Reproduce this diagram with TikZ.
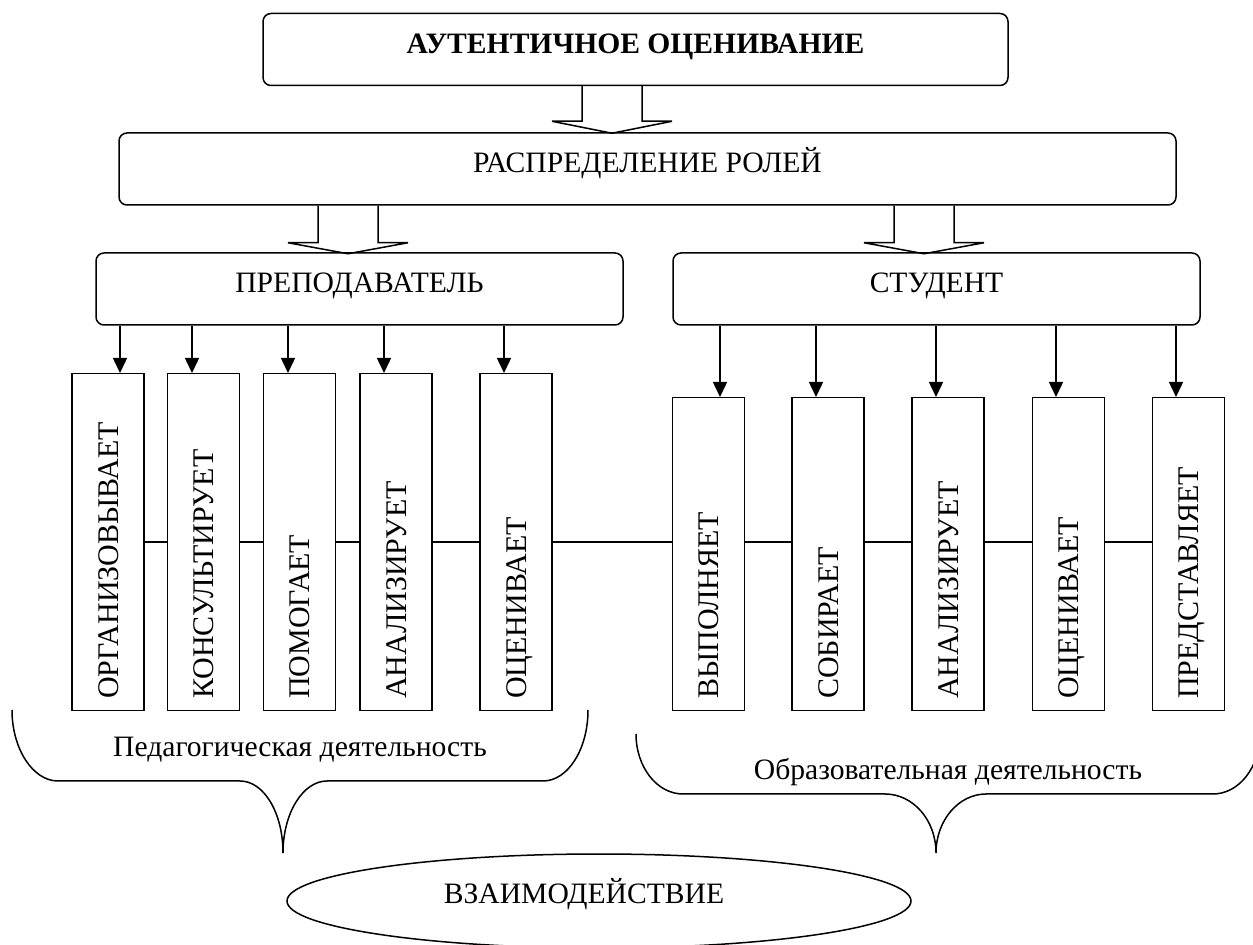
\documentclass[tikz,border=0pt]{standalone}
\usepackage{fontspec}
\setmainfont{Liberation Serif}
\usetikzlibrary{arrows.meta,calc,shapes.geometric}

\begin{document}
\begin{tikzpicture}[x=0.5pt,y=-0.5pt,line width=0.75pt,
  rbox/.style={draw, rounded corners=4pt, inner xsep=0pt, inner ysep=0pt,
    text height=20pt, text depth=16pt, font=\fontsize{14.8}{17}\selectfont},
  actbox/.style={draw, rotate=90, anchor=east, minimum height=36pt,
    inner xsep=6pt, inner ysep=0pt, align=left, text height=10pt,
    text depth=0pt, font=\fontsize{15}{17}\selectfont},
  tip/.style={-{Triangle[width=7pt,length=7.5pt]}},
  lbl/.style={anchor=base, inner sep=0pt, font=\fontsize{14.8}{17}\selectfont}]
  \useasboundingbox (0,0) rectangle (1253,945);

  % top levels
  \node[rbox, minimum width=372.5pt, font=\fontsize{14.8}{17}\selectfont\bfseries] (title) at (635.5,49.5) {АУТЕНТИЧНОЕ ОЦЕНИВАНИЕ};
  \node[rbox, minimum width=528.5pt] (roles) at (647.5,169) {РАСПРЕДЕЛЕНИЕ РОЛЕЙ};
  \node[rbox, minimum width=263.5pt] (teacher) at (359.5,289) {ПРЕПОДАВАТЕЛЬ};
  \node[rbox, minimum width=263.5pt] (student) at (936.5,289) {СТУДЕНТ};

  % block arrows
  \draw ($(title.south)+(-53.5,0)$) -- ++(0,35) -- ++(-30,0) -- ++(60,12) -- ++(60,-12) -- ++(-30,0) -- ++(0,-35);
  \draw ($(roles.south)+(-329.5,0)$) -- ++(0,37) -- ++(-30,0) -- ++(60,11) -- ++(60,-11) -- ++(-30,0) -- ++(0,-37);
  \draw ($(roles.south)+(246.5,0)$) -- ++(0,37) -- ++(-30,0) -- ++(60,11) -- ++(60,-11) -- ++(-30,0) -- ++(0,-37);

  % teacher actions
  \node[actbox, text width=156.5pt] (org) at (108,373) {ОРГАНИЗОВЫВАЕТ};
  \node[actbox, text width=156.5pt] (kons) at (203.5,373) {КОНСУЛЬТИРУЕТ};
  \node[actbox, text width=156.5pt] (pom) at (299.5,373) {ПОМОГАЕТ};
  \node[actbox, text width=156.5pt] (anl) at (396,373) {АНАЛИЗИРУЕТ};
  \node[actbox, text width=156.5pt] (ocen) at (516,373) {ОЦЕНИВАЕТ};

  % student actions
  \node[actbox, text width=144.5pt] (vyp) at (708.5,397) {ВЫПОЛНЯЕТ};
  \node[actbox, text width=144.5pt] (sob) at (828,397) {СОБИРАЕТ};
  \node[actbox, text width=144.5pt] (anls) at (948,397) {АНАЛИЗИРУЕТ};
  \node[actbox, text width=144.5pt] (ocens) at (1068.5,397) {ОЦЕНИВАЕТ};
  \node[actbox, text width=144.5pt] (pred) at (1188.5,397) {ПРЕДСТАВЛЯЕТ};

  % arrows to actions
  \coordinate (t1) at ($(org.east)+(12,0)$);
  \coordinate (t2) at ($(kons.east)+(-11.5,0)$);
  \coordinate (t3) at ($(pom.east)+(-11.5,0)$);
  \coordinate (t4) at ($(anl.east)+(-12,0)$);
  \coordinate (t5) at ($(ocen.east)+(-12,0)$);
  \coordinate (s1) at ($(vyp.east)+(11.5,0)$);
  \coordinate (s2) at ($(sob.east)+(-12,0)$);
  \coordinate (s3) at ($(anls.east)+(-12,0)$);
  \coordinate (s4) at ($(ocens.east)+(-12.5,0)$);
  \coordinate (s5) at ($(pred.east)+(-12.5,0)$);
  \draw[tip] (teacher.south -| t1) -- (t1);
  \draw[tip] (teacher.south -| t2) -- (t2);
  \draw[tip] (teacher.south -| t3) -- (t3);
  \draw[tip] (teacher.south -| t4) -- (t4);
  \draw[tip] (teacher.south -| t5) -- (t5);
  \draw[tip] (student.south -| s1) -- (s1);
  \draw[tip] (student.south -| s2) -- (s2);
  \draw[tip] (student.south -| s3) -- (s3);
  \draw[tip] (student.south -| s4) -- (s4);
  \draw[tip] (student.south -| s5) -- (s5);

  % line through the actions
  \draw (org.south) -- (kons.north);
  \draw (kons.south) -- (pom.north);
  \draw (pom.south) -- (anl.north);
  \draw (anl.south) -- (ocen.north);
  \draw (ocen.south) -- (ocen.south -| vyp.north);
  \draw (vyp.south |- ocen.south) -- (sob.north |- ocen.south);
  \draw (sob.south |- ocen.south) -- (anls.north |- ocen.south);
  \draw (anls.south |- ocen.south) -- (ocens.north |- ocen.south);
  \draw (ocens.south |- ocen.south) -- (pred.north |- ocen.south);

  % braces
  \draw (12,710) .. controls (12,749) and (33,781) .. (58,781) -- (240,781)
    .. controls (264,781) and (283,813) .. (283,853)
    .. controls (283,813) and (303,781) .. (327,781) -- (543,781)
    .. controls (568,781) and (588,749) .. (588,710);
  \draw (636,734) .. controls (636,767) and (657,794) .. (683,794) -- (885,794)
    .. controls (913,794) and (936,820) .. (936,853)
    .. controls (936,820) and (959,794) .. (986,794) -- (1213,794)
    .. controls (1239,794) and (1260,767) .. (1260,734);
  \node[lbl] (ped) at (300,757) {Педагогическая деятельность};
  \node[lbl] (obr) at (948,780) {Образовательная деятельность};

  \node[draw, ellipse, minimum width=312pt, minimum height=47pt, inner sep=0pt] (inter) at (599,901) {};
  \node[lbl] (interlbl) at (584,903) {ВЗАИМОДЕЙСТВИЕ};
\end{tikzpicture}
\end{document}
